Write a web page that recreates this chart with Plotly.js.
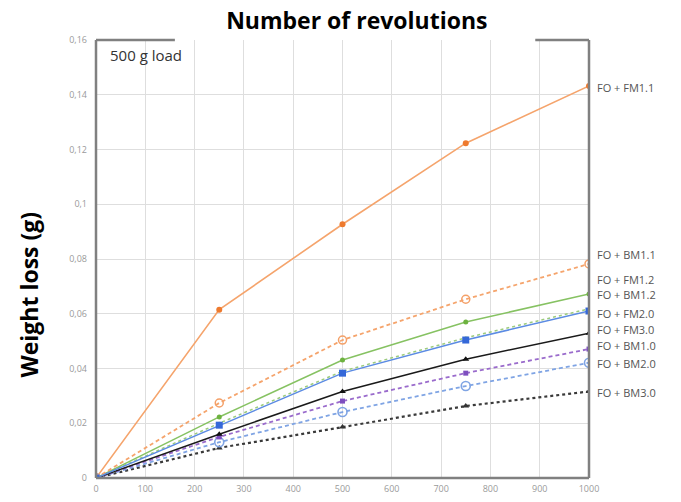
<!DOCTYPE html>
<html>
<head>
<meta charset="utf-8">
<script src="https://cdn.plot.ly/plotly-3.0.1.min.js"></script>
<style>html,body{margin:0;padding:0;background:#fff;}#chart{width:681px;height:502px;}</style>
</head>
<body>
<div id="chart"></div>
<script>
// ---- data ----
var revolutions = [0, 250, 500, 750, 1000];
var seriesNames = ["FO + FM1.1", "FO + BM1.1", "FO + FM1.2", "FO + BM1.2", "FO + FM2.0",
                   "FO + FM3.0", "FO + BM1.0", "FO + BM2.0", "FO + BM3.0"];
var fm11 = [0, 0.0615, 0.0927, 0.1223, 0.1432];
var bm11 = [0, 0.0274, 0.0504, 0.0653, 0.0782];
var fm12 = [0, 0.0223, 0.0431, 0.0570, 0.0672];
var bm12 = [0, 0.0200, 0.0390, 0.0512, 0.0618];
var fm20 = [0, 0.0193, 0.0383, 0.0504, 0.0610];
var fm30 = [0, 0.0160, 0.0316, 0.0434, 0.0529];
var bm10 = [0, 0.0150, 0.0281, 0.0383, 0.0471];
var bm20 = [0, 0.0131, 0.0241, 0.0336, 0.0421];
var bm30 = [0, 0.0110, 0.0186, 0.0263, 0.0316];
var yTicks = [0, 0.02, 0.04, 0.06, 0.08, 0.1, 0.12, 0.14, 0.16];
var xTicks = [0, 100, 200, 300, 400, 500, 600, 700, 800, 900, 1000];

// ---- styles ----
var styles = [
  {line:{color:'#F5A46C', width:1.6}, marker:{symbol:'circle', size:6, color:'#EE7A2E'}},
  {line:{color:'#F5A46C', width:1.8, dash:'4px,3px'}, marker:{symbol:'circle-open', size:8, color:'#F4A068', line:{width:1.5}}},
  {line:{color:'#86C262', width:1.5}, marker:{symbol:'circle', size:5, color:'#6DB23F'}},
  {line:{color:'#9CCB7E', width:1.5, dash:'3px,3px'}, marker:{symbol:'circle', size:3, color:'#9CCB7E'}},
  {line:{color:'#5B8BE3', width:1.5}, marker:{symbol:'square', size:7, color:'#3568D8'}},
  {line:{color:'#1a1a1a', width:1.5}, marker:{symbol:'triangle-up', size:6, color:'#111'}},
  {line:{color:'#9A6BCC', width:1.8, dash:'4px,3px'}, marker:{symbol:'square', size:5, color:'#7E4FBF'}},
  {line:{color:'#7FA4E4', width:1.8, dash:'4px,3px'}, marker:{symbol:'circle-open', size:9, color:'#7FA4E4', line:{width:1.6}}},
  {line:{color:'#3a3a3a', width:2.2, dash:'3px,3px'}, marker:{symbol:'triangle-up', size:6, color:'#333'}}
];
var labelShift = [-2, 9, 15, 14, -2, 4, 4, -1, -1];
var allSeries = [fm11, bm11, fm12, bm12, fm20, fm30, bm10, bm20, bm30];
var drawOrder = [8, 7, 6, 5, 3, 2, 1, 0, 4];

var traces = drawOrder.map(function (i) {
  return {
    x: revolutions, y: allSeries[i], name: seriesNames[i],
    type: 'scatter', mode: 'lines+markers',
    line: styles[i].line, marker: styles[i].marker,
    hoverinfo: 'x+y+name'
  };
});

var annotations = seriesNames.map(function (n, i) {
  return {
    xref: 'paper', x: 1, yref: 'y', y: allSeries[i][allSeries[i].length - 1],
    text: n, showarrow: false, xanchor: 'left', yanchor: 'middle',
    xshift: 7, yshift: labelShift[i], borderpad: 0,
    font: {family: 'Open Sans, sans-serif', size: 11, color: '#555'}
  };
});
annotations.push({
  xref: 'paper', yref: 'paper', x: 0.024, y: 0.965, xanchor: 'left', yanchor: 'middle',
  text: '500 g load', showarrow: false,
  font: {family: 'Open Sans, sans-serif', size: 15, color: '#333'}
});
annotations.push({
  xref: 'paper', yref: 'paper', x: -0.135, y: 0.42, xanchor: 'center', yanchor: 'middle',
  text: '<b>Weight loss (g)</b>', showarrow: false, textangle: -90,
  font: {family: 'Open Sans, sans-serif', size: 23, color: '#000'}
});

var borderColor = '#808080';
var shapes = [
  {type:'line', xref:'paper', yref:'paper', x0:0, x1:0, y0:0, y1:1, line:{color:borderColor, width:2.5}},
  {type:'line', xref:'paper', yref:'paper', x0:0, x1:1, y0:0, y1:0, line:{color:borderColor, width:2.5}},
  {type:'line', xref:'paper', yref:'paper', x0:1, x1:1, y0:0, y1:1, line:{color:borderColor, width:2.5}},
  {type:'line', xref:'paper', yref:'paper', x0:0, x1:0.16, y0:1, y1:1, line:{color:borderColor, width:2.5}},
  {type:'line', xref:'paper', yref:'paper', x0:0.891, x1:1, y0:1, y1:1, line:{color:borderColor, width:2.5}}
];

var layout = {
  width: 681, height: 502,
  margin: {l: 96, r: 92, t: 40, b: 24},
  paper_bgcolor: '#fff', plot_bgcolor: '#fff',
  separators: ', ',
  showlegend: false,
  title: {
    text: '<b>Number of revolutions</b>',
    font: {family: 'Open Sans, sans-serif', size: 23, color: '#000'},
    x: 0.524, xanchor: 'center', y: 0.958, yanchor: 'middle'
  },
  xaxis: {
    range: [0, 1000], tickvals: xTicks, showgrid: true, gridcolor: '#dedede', gridwidth: 1,
    zeroline: false, showline: false, ticks: '', ticklabelstandoff: 4,
    tickfont: {family: 'Open Sans, sans-serif', size: 9, color: '#9a9a9a'}
  },
  yaxis: {
    range: [0, 0.16], tickvals: yTicks, showgrid: true, gridcolor: '#dedede', gridwidth: 1,
    zeroline: false, showline: false, ticks: '', ticklabelstandoff: 8,
    tickfont: {family: 'Open Sans, sans-serif', size: 9, color: '#9a9a9a'}
  },
  annotations: annotations,
  shapes: shapes
};

Plotly.newPlot('chart', traces, layout, {displayModeBar: false, staticPlot: true});
</script>
</body>
</html>
